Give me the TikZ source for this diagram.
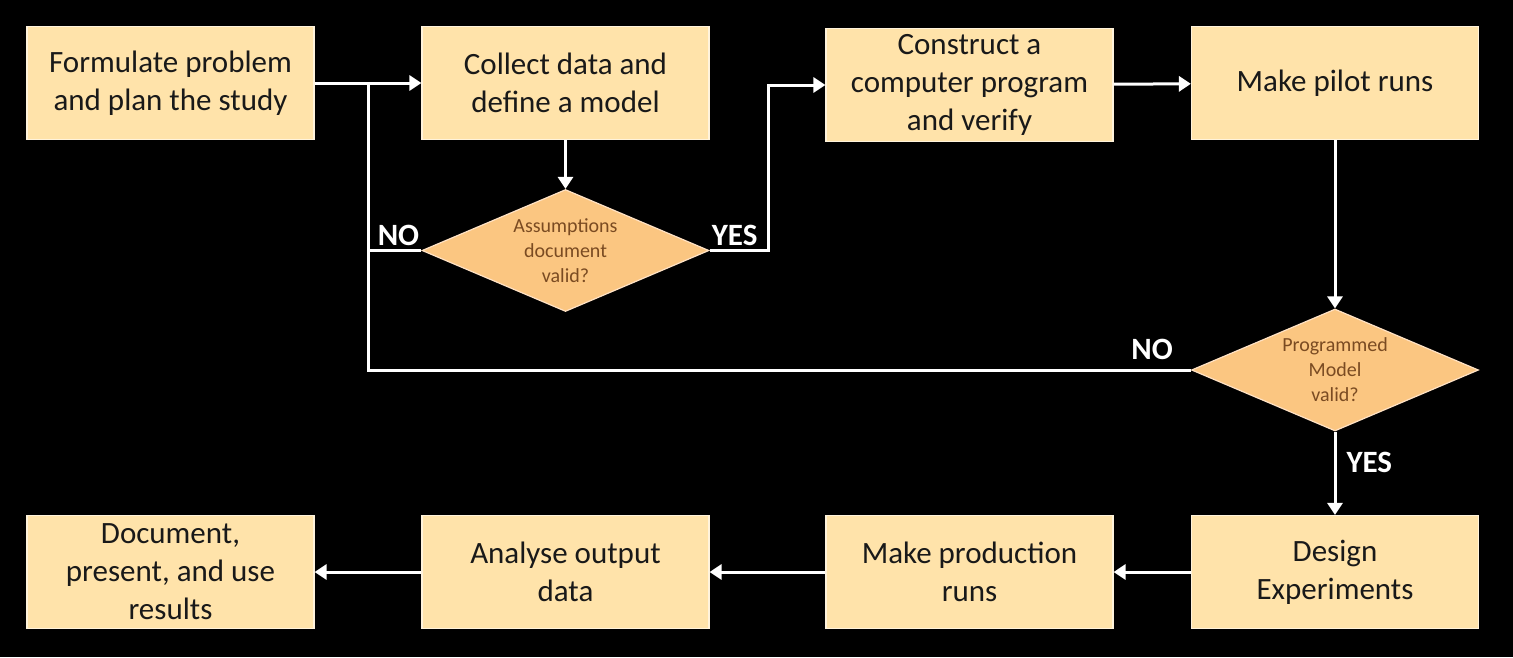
\documentclass[tikz,border=0pt]{standalone}
\usepackage{fontspec}
\setmainfont{Carlito}
\usepackage{tikz}
\usetikzlibrary{shapes.geometric,arrows.meta,positioning,calc}
\definecolor{boxfill}{HTML}{FFE3AA}
\definecolor{boxline}{HTML}{FFF3DC}
\definecolor{decfill}{HTML}{FBC681}
\definecolor{decline}{HTML}{FFE2C4}
\definecolor{dectext}{HTML}{7A4B22}

\begin{document}
\begin{tikzpicture}[x=1pt,y=-1pt,
  stage/.style={draw=boxline,fill=boxfill,line width=1.2pt,minimum width=287pt,minimum height=113pt,
                inner sep=0pt,align=center,text=black!90,font=\fontsize{31}{38}\selectfont},
  dec/.style={diamond,draw=decline,fill=decfill,line width=1.2pt,minimum width=287pt,minimum height=122pt,
              inner sep=0pt,aspect=2.35,align=center,text=dectext,font=\fontsize{20}{25}\selectfont},
  flow/.style={draw=white,line width=3pt},
  arrw/.style={flow,-{Triangle[length=12pt,width=15pt]}},
  ans/.style={text=white,font=\fontsize{31}{32}\selectfont\bfseries,inner sep=2pt}]

\fill[black] (0,0) rectangle (1513,657);
\useasboundingbox (0,0) rectangle (1513,657);

\node[stage] (plan) at (170.5,83) {Formulate problem\\and plan the study};
\node[stage] (data) at (565.5,83) {Collect data and\\define a model};
\node[stage] (prog) at (969.5,85) {Construct a\\computer program\\and verify};
\node[stage] (pilot) at (1335,83) {Make pilot runs};
\node[dec] (asum) at (565.5,250.5) {Assumptions\\document\\valid?};
\node[dec] (valid) at (1335,370) {Programmed\\Model\\valid?};
\node[stage] (exper) at (1335,572) {Design\\Experiments};
\node[stage] (prod) at (969.5,572) {Make production\\runs};
\node[stage] (anal) at (565.5,572) {Analyse output\\data};
\node[stage] (docu) at (170.5,572) {Document,\\present, and use\\results};

\coordinate (join) at ($(plan.east)!.5!(data.west)$);

\draw[arrw] (plan) -- (data);
\draw[arrw] (data) -- (asum);
\draw[arrw] (asum.east) -- ++(59,0) |- (prog.west);
\draw[arrw] (prog) -- (pilot);
\draw[arrw] (pilot) -- (valid);
\draw[arrw] (valid) -- node[ans,right=8pt,pos=.37]{YES} (exper);
\draw[arrw] (exper) -- (prod);
\draw[arrw] (prod) -- (anal);
\draw[arrw] (anal) -- (docu);
% both NO branches run back into the line before data collection
\draw[flow] (asum.west) -| (join);
\draw[flow] (valid.west) -| (join);

\node[ans,anchor=south east,yshift=3pt] (no1) at (asum.west) {NO};
\node[ans,anchor=south west,yshift=3pt] (yes1) at (asum.east) {YES};
\node[ans,anchor=south east,xshift=-16pt,yshift=8pt] (no2) at (valid.west) {NO};
\end{tikzpicture}
\end{document}
